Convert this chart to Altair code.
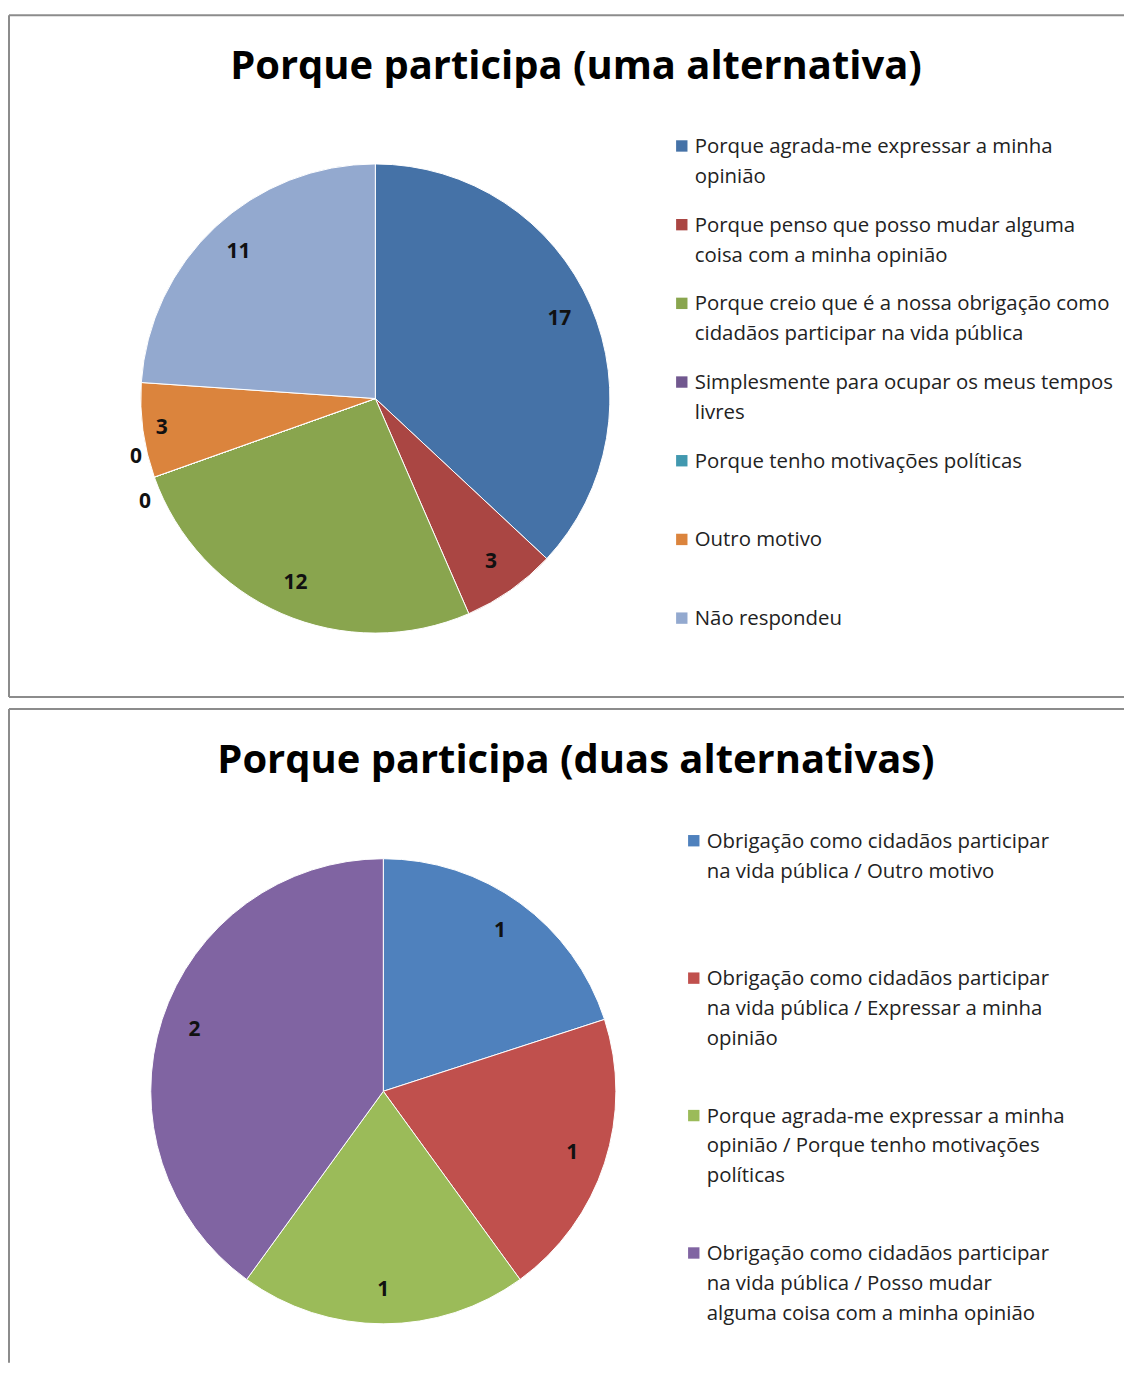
import altair as alt
import pandas as pd

FONT = "Open Sans"

top_title = "Porque participa (uma alternativa)"
top_labels = [
    "Porque agrada-me expressar a minha\nopinião",
    "Porque penso que posso mudar alguma\ncoisa com a minha opinião",
    "Porque creio que é a nossa obrigação como\ncidadãos participar na vida pública",
    "Simplesmente para ocupar os meus tempos\nlivres",
    "Porque tenho motivações políticas",
    "Outro motivo",
    "Não respondeu",
]
top_values = [17, 3, 12, 0, 0, 3, 11]
top_colors = ["#4572A7", "#AA4643", "#89A54E", "#71588F", "#4198AF", "#DB843D", "#93A9CF"]

bot_title = "Porque participa (duas alternativas)"
bot_labels = [
    "Obrigação como cidadãos participar\nna vida pública / Outro motivo",
    "Obrigação como cidadãos participar\nna vida pública / Expressar a minha\nopinião",
    "Porque agrada-me expressar a minha\nopinião / Porque tenho motivações\npolíticas",
    "Obrigação como cidadãos participar\nna vida pública / Posso mudar\nalguma coisa com a minha opinião",
]
bot_values = [1, 1, 1, 2]
bot_colors = ["#4F81BD", "#C0504D", "#9BBB59", "#8064A2"]

BORDER = "#8c8c8c"


def panel(key, title, labels, values, colors, W, H, cx, cy, r, lab_r, leg_x, leg_y0, leg_y1,
          far_idx=None, zero_idx=(), bottom_border=True):
    n = len(labels)
    cat = f"cat_{key}"
    idx = f"idx_{key}"
    val = f"val_{key}"
    df = pd.DataFrame({idx: list(range(n)), cat: labels, val: values})
    color = alt.Color(f"{cat}:N", scale=alt.Scale(domain=labels, range=colors), legend=None)
    base = alt.Chart(df)
    theta = alt.Theta(f"{val}:Q", stack=True)
    order = alt.Order(f"{idx}:Q")

    arc = base.mark_arc(outerRadius=r, stroke="white", strokeWidth=1).encode(
        theta=theta, color=color, order=order,
        x=alt.value(cx), y=alt.value(cy))

    layers = [arc]
    near_test = f"datum.{val} > 0" + (f" && datum.{idx} != {far_idx}" if far_idx is not None else "")
    txt_kw = dict(font=FONT, fontSize=21, fontWeight="bold", color="#111",
                  align="center", baseline="middle")
    layers.append(base.mark_text(radius=lab_r, **txt_kw).encode(
        theta=theta, order=order, x=alt.value(cx), y=alt.value(cy),
        text=alt.condition(near_test, alt.Text(f"{val}:Q"), alt.value(""))))
    if far_idx is not None:
        layers.append(base.mark_text(radius=lab_r + 15, **txt_kw).encode(
            theta=theta, order=order, x=alt.value(cx), y=alt.value(cy),
            text=alt.condition(f"datum.{idx} == {far_idx}", alt.Text(f"{val}:Q"), alt.value(""))))
    for zi, dy, dx in zip(zero_idx, [-24, 21], [-6, 3]):
        layers.append(base.mark_text(radius=r + 13, dy=dy, dx=dx, **txt_kw).encode(
            theta=theta, order=order, x=alt.value(cx), y=alt.value(cy),
            text=alt.condition(f"datum.{idx} == {zi}", alt.Text(f"{val}:Q"), alt.value(""))))

    ysc = alt.Y(f"{idx}:Q", scale=alt.Scale(domain=[0, n - 1], range=[leg_y0, leg_y1]), axis=None)
    layers.append(base.mark_point(shape="square", filled=True, size=130, opacity=1).encode(
        x=alt.value(leg_x), y=ysc, color=color))
    layers.append(base.mark_text(align="left", baseline="alphabetic", dy=7, lineBreak="\n",
                                 lineHeight=30, font=FONT, fontSize=20.4, color="#222").encode(
        x=alt.value(leg_x + 13), y=ysc, text=f"{cat}:N"))

    tdf = pd.DataFrame({"t": [title]})
    layers.append(alt.Chart(tdf).mark_text(font=FONT, fontSize=40, fontWeight="bold",
                                           color="#000", align="center", baseline="middle").encode(
        x=alt.value(568), y=alt.value(52), text="t:N"))

    one = alt.Chart(pd.DataFrame({"a": [0]}))
    rule = dict(color=BORDER, strokeWidth=2)
    layers.append(one.mark_rule(**rule).encode(x=alt.value(0), y=alt.value(0), y2=alt.value(H)))
    layers.append(one.mark_rule(**rule).encode(x=alt.value(0), x2=alt.value(W), y=alt.value(0)))
    if bottom_border:
        layers.append(one.mark_rule(**rule).encode(x=alt.value(0), x2=alt.value(W), y=alt.value(H)))

    return alt.layer(*layers).properties(width=W, height=H)


top = panel("t", top_title, top_labels, top_values, top_colors, 1117, 683,
            367, 384, 235, 201, 674, 131, 604, far_idx=5, zero_idx=(3, 4))
bot = panel("b", bot_title, bot_labels, bot_values, bot_colors, 1117, 655,
            375, 383, 233, 199, 686, 132, 545, bottom_border=False)

chart = alt.vconcat(top, bot, spacing=10).resolve_scale(color="independent").properties(
    padding={"left": 0, "top": 5, "right": 0, "bottom": 0}
).configure_view(stroke=None)

chart.save("out.html", embed_options={"renderer": "svg", "actions": False})
